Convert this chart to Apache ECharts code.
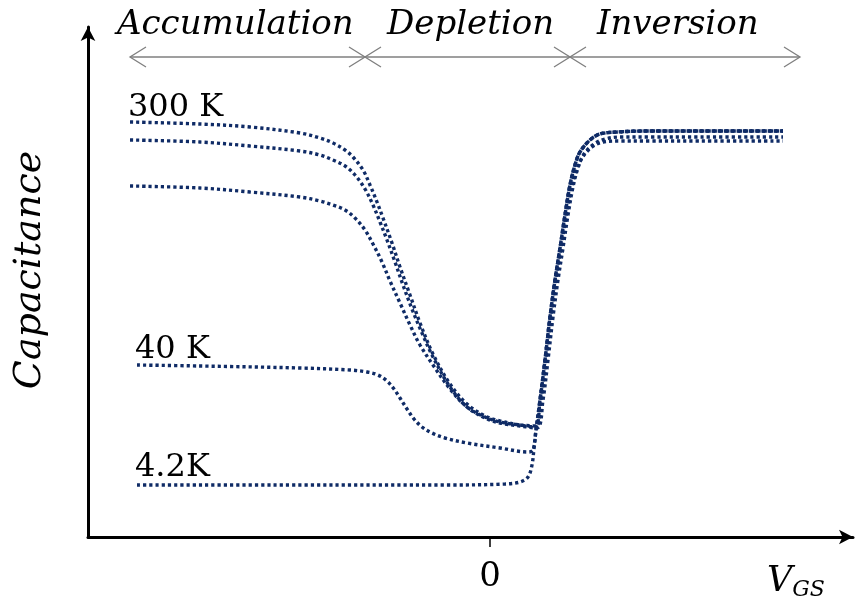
<!DOCTYPE html>
<html><head><meta charset="utf-8">
<script src="https://cdn.jsdelivr.net/npm/echarts@6/dist/echarts.min.js"></script>
<style>html,body{margin:0;padding:0;background:#fff}#c{width:856px;height:601px}</style>
</head><body><div id="c"></div>
<script>
// x: gate voltage (arbitrary units, 0 at tick), y: capacitance (arbitrary units)
const curve300K = [[-3.60,4.15],[-2.90,4.13],[-2.40,4.10],[-1.90,4.04],[-1.70,3.99],[-1.57,3.94],[-1.45,3.87],[-1.37,3.80],[-1.27,3.67],[-1.20,3.52],[-1.13,3.35],[-1.07,3.19],[-0.98,2.94],[-0.90,2.70],[-0.80,2.42],[-0.70,2.14],[-0.57,1.83],[-0.40,1.53],[-0.23,1.33],[-0.05,1.21],[0.10,1.16],[0.30,1.12],[0.45,1.10],[0.50,1.37],[0.55,1.77],[0.60,2.20],[0.65,2.57],[0.70,2.89],[0.75,3.22],[0.80,3.52],[0.85,3.72],[0.90,3.85],[1.00,3.97],[1.10,4.03],[1.27,4.05],[1.60,4.06],[2.10,4.06],[2.93,4.06]];
const curveB = [[-3.60,3.97],[-2.90,3.95],[-2.40,3.91],[-1.90,3.86],[-1.70,3.82],[-1.57,3.77],[-1.45,3.71],[-1.35,3.62],[-1.25,3.48],[-1.17,3.32],[-1.10,3.15],[-1.03,2.97],[-0.95,2.75],[-0.87,2.52],[-0.78,2.28],[-0.68,2.04],[-0.57,1.80],[-0.40,1.50],[-0.23,1.30],[-0.05,1.19],[0.10,1.14],[0.30,1.11],[0.47,1.09],[0.53,1.37],[0.58,1.77],[0.63,2.20],[0.68,2.57],[0.73,2.89],[0.78,3.22],[0.83,3.50],[0.88,3.69],[0.94,3.83],[1.04,3.93],[1.15,3.98],[1.30,4.00],[1.60,4.00],[2.10,4.00],[2.93,4.00]];
const curveC = [[-3.60,3.51],[-2.90,3.49],[-2.40,3.45],[-1.90,3.40],[-1.70,3.36],[-1.57,3.32],[-1.45,3.27],[-1.35,3.19],[-1.25,3.07],[-1.17,2.93],[-1.08,2.75],[-1.00,2.56],[-0.90,2.34],[-0.80,2.12],[-0.70,1.92],[-0.57,1.72],[-0.40,1.48],[-0.23,1.30],[-0.05,1.20],[0.10,1.15],[0.30,1.12],[0.46,1.11],[0.51,1.37],[0.56,1.77],[0.61,2.20],[0.66,2.57],[0.71,2.89],[0.76,3.20],[0.81,3.47],[0.86,3.65],[0.92,3.79],[1.02,3.90],[1.13,3.95],[1.30,3.96],[1.60,3.96],[2.10,3.96],[2.93,3.96]];
const curve40K = [[-3.53,1.72],[-2.90,1.71],[-1.90,1.69],[-1.40,1.67],[-1.23,1.65],[-1.12,1.62],[-1.03,1.56],[-0.96,1.48],[-0.90,1.39],[-0.83,1.28],[-0.76,1.18],[-0.68,1.10],[-0.58,1.04],[-0.45,0.99],[-0.23,0.94],[0.10,0.89],[0.38,0.85],[0.43,0.87],[0.46,1.07],[0.50,1.37],[0.55,1.77],[0.60,2.20],[0.65,2.57],[0.70,2.89],[0.75,3.22],[0.80,3.52],[0.85,3.72],[0.90,3.85],[1.00,3.97],[1.10,4.03],[1.27,4.05],[1.60,4.06],[2.10,4.06],[2.93,4.06]];
const curve4K = [[-3.53,0.52],[-1.90,0.52],[-0.40,0.52],[0.15,0.53],[0.30,0.55],[0.38,0.60],[0.42,0.72],[0.44,0.89],[0.46,1.07],[0.50,1.37],[0.55,1.77],[0.60,2.20],[0.65,2.57],[0.70,2.89],[0.75,3.22],[0.80,3.52],[0.85,3.72],[0.90,3.85],[1.00,3.97],[1.10,4.03],[1.27,4.05],[1.60,4.06],[2.10,4.06],[2.93,4.06]];

const seriesData = [curve300K, curveB, curveC, curve40K, curve4K];
const curveLabels = [['300 K', 0], ['40 K', 3], ['4.2K', 4]];
const regionNames = ['Accumulation', 'Depletion', 'Inversion'];
const regionBounds = [-3.60, -1.25, 0.80, 3.10];
const xTickValues = [0];

const LINE = '#0f2b66';
const chart = echarts.init(document.getElementById('c'), null, {renderer: 'canvas'});
const option = {
  animation: false,
  backgroundColor: '#fff',
  grid: {left: 88, right: 3, top: 27, bottom: 64},
  xAxis: {
    type: 'value', min: -4.02, max: 3.63,
    axisLine: {show: true, lineStyle: {color: '#000', width: 3}, symbol: ['none', 'arrow'], symbolSize: [11, 14]},
    axisTick: {show: true, customValues: xTickValues, length: 10, lineStyle: {color: '#000', width: 1.5}},
    axisLabel: {show: true, customValues: xTickValues, margin: 23, fontFamily: 'DejaVu Serif', fontSize: 34, color: '#000'},
    splitLine: {show: false}
  },
  yAxis: {
    type: 'value', min: 0, max: 5.10,
    axisLine: {show: true, onZero: false, lineStyle: {color: '#000', width: 3}, symbol: ['none', 'arrow'], symbolSize: [11, 14]},
    axisTick: {show: false}, axisLabel: {show: false}, splitLine: {show: false}
  },
  series: seriesData.map(d => ({
    type: 'line', data: d, showSymbol: false, smooth: 0.35,
    lineStyle: {color: LINE, width: 3.4, type: [3.2, 3], cap: 'butt'}
  }))
};
chart.setOption(option);

const g = [];
const yArrow = 57;
const px = v => chart.convertToPixel({gridIndex: 0}, [v, 0])[0];
const regionTextX = [117, 387, 597];
for (let i = 0; i < regionNames.length; i++) {
  const x1 = px(regionBounds[i]), x2 = px(regionBounds[i + 1]);
  g.push({type: 'text', left: regionTextX[i], top: 8, style: {text: regionNames[i], font: 'italic 34px "DejaVu Serif"', fill: '#000'}});
  g.push({type: 'line', shape: {x1: x1, y1: yArrow, x2: x2, y2: yArrow}, style: {stroke: '#7f7f7f', lineWidth: 1.5}});
  g.push({type: 'polyline', shape: {points: [[x1 + 16, yArrow - 10], [x1, yArrow], [x1 + 16, yArrow + 10]]}, style: {stroke: '#7f7f7f', lineWidth: 1.3, fill: null}});
  g.push({type: 'polyline', shape: {points: [[x2 - 16, yArrow - 10], [x2, yArrow], [x2 - 16, yArrow + 10]]}, style: {stroke: '#7f7f7f', lineWidth: 1.3, fill: null}});
}
const labelGap = [0, 0, 0, -1, -3];
curveLabels.forEach(([t, idx]) => {
  const p = chart.convertToPixel({gridIndex: 0}, seriesData[idx][0]);
  g.push({type: 'text', x: p[0] - 2, y: p[1] + 2 + labelGap[idx], style: {text: t, font: '32px "DejaVu Serif"', fill: '#000', textAlign: 'left', textVerticalAlign: 'bottom'}});
});
g.push({type: 'text', x: 30, y: 270, rotation: Math.PI / 2, style: {text: 'Capacitance', font: 'italic 38px "DejaVu Serif"', fill: '#000', textAlign: 'center', textVerticalAlign: 'middle'}});
g.push({type: 'text', x: 767, y: 582, style: {
  text: '{v|V}{s|GS}', textVerticalAlign: 'middle',
  rich: {v: {fontFamily: 'DejaVu Serif', fontStyle: 'italic', fontSize: 35, color: '#000'},
         s: {fontFamily: 'DejaVu Serif', fontStyle: 'italic', fontSize: 22, color: '#000', padding: [16, 0, 0, 0]}}
}});
chart.setOption({graphic: g});
</script></body></html>
